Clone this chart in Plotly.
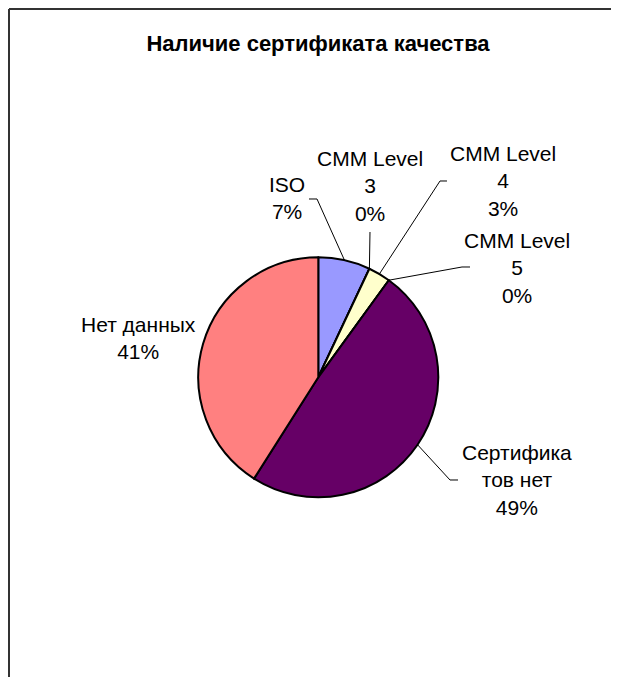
import math
import plotly.graph_objects as go

# ---- data ----
categories = ["ISO", "CMM Level 3", "CMM Level 4", "CMM Level 5", "Сертификатов нет", "Нет данных"]
shares = [7, 0, 3, 0, 49, 41]
slice_colors = ["#9999FF", "#993366", "#FFFFCC", "#CCFFFF", "#660066", "#FF8080"]
# how each category label wraps in the chart
label_wrap = {
    "ISO": ["ISO"],
    "CMM Level 3": ["CMM Level", "3"],
    "CMM Level 4": ["CMM Level", "4"],
    "CMM Level 5": ["CMM Level", "5"],
    "Сертификатов нет": ["Сертифика", "тов нет"],
    "Нет данных": ["Нет данных"],
}
title_text = "Наличие сертификата качества"

# ---- layout (screen pixels; the page body adds an 8px offset) ----
OFF = 8
W, H = 611, 669
CX, CY, R = 318.3, 377.3, 120.0
FONT = "Liberation Sans, Arial, sans-serif"
LABEL_SIZE = 21
# label centre (x, middle y) for each category
label_pos = {
    "ISO": (287, 198),
    "CMM Level 3": (370, 186),
    "CMM Level 4": (503, 181),
    "CMM Level 5": (517, 268),
    "Сертификатов нет": (517, 480),
    "Нет данных": (138, 338),
}
# leader line: elbow point and end of the short horizontal tick
leader = {
    "ISO": ((317, 199), (309, 199)),
    "CMM Level 3": ((370, 232), None),
    "CMM Level 4": ((440, 181), (447, 181)),
    "CMM Level 5": ((462, 267), (470, 267)),
    "Сертификатов нет": ((450, 480), (458, 480)),
}


def px(x, y):
    return (x - OFF) / W, 1 - (y - OFF) / H


fig = go.Figure()
dx0, dy1 = px(CX - R, CY - R)
dx1, dy0 = px(CX + R, CY + R)
fig.add_trace(go.Pie(
    labels=categories,
    values=shares,
    sort=False,
    direction="clockwise",
    rotation=0,
    textinfo="none",
    hoverinfo="label+percent",
    marker=dict(colors=slice_colors, line=dict(color="black", width=2)),
    domain=dict(x=[dx0, dx1], y=[dy0, dy1]),
    showlegend=False,
))

total = sum(shares)
cum = 0.0
annotations = []
shapes = []
for cat, v in zip(categories, shares):
    mid = (cum + v / 2) / total
    cum += v
    theta = 2 * math.pi * mid
    ex, ey = CX + R * math.sin(theta), CY - R * math.cos(theta)
    pct = round(100 * v / total)
    lx, ly = label_pos[cat]
    text = "<br>".join(label_wrap[cat] + [f"{pct}%"])
    ax_, ay_ = px(lx, ly)
    annotations.append(dict(
        x=ax_, y=ay_, xref="paper", yref="paper", text=text, showarrow=False,
        xanchor="center", yanchor="middle", align="center",
        font=dict(family=FONT, size=LABEL_SIZE, color="black"),
    ))
    if cat in leader:
        elbow, tick = leader[cat]
        pts = [(ex, ey), elbow] + ([tick] if tick else [])
        path = ""
        for i, (x, y) in enumerate(pts):
            pxx, pyy = px(x, y)
            path += ("M" if i == 0 else "L") + f"{pxx:.5f},{pyy:.5f} "
        shapes.append(dict(type="path", xref="paper", yref="paper", path=path.strip(),
                           line=dict(color="black", width=1)))

# chart-area frame: only its top and left edges fall inside the picture
fx0, fy0 = px(9, 9)
frame = dict(color="#333333", width=2)
shapes.append(dict(type="line", xref="paper", yref="paper", x0=fx0, y0=fy0, x1=1.0, y1=fy0,
                   line=frame, layer="above"))
shapes.append(dict(type="line", xref="paper", yref="paper", x0=fx0, y0=fy0, x1=fx0, y1=0.0,
                   line=frame, layer="above"))

tx, ty = px(318, 43)
fig.update_layout(
    width=W, height=H,
    margin=dict(l=0, r=0, t=0, b=0),
    paper_bgcolor="white", plot_bgcolor="white",
    title=dict(text=f"<b>{title_text}</b>", x=tx, xanchor="center",
               y=ty, yanchor="middle",
               font=dict(family=FONT, size=22, color="black")),
    annotations=annotations,
    shapes=shapes,
)

fig.write_html("out.html")
